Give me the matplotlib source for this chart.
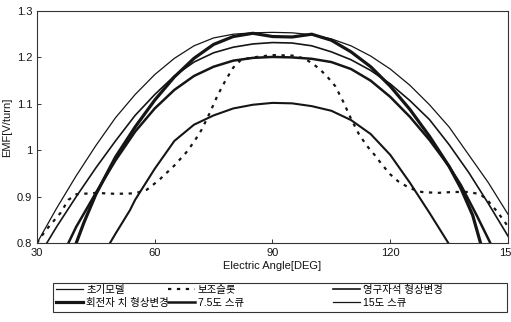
import numpy as np
import matplotlib.pyplot as plt
from matplotlib.patches import Rectangle
from matplotlib.lines import Line2D

plt.rcParams['font.family'] = ['Liberation Sans', 'Noto Sans CJK KR', 'DejaVu Sans']

# 초기모델 (thin, widest, peak ~1.25)
ang_a = [30, 35, 40, 45, 50, 55, 60, 65, 70, 75, 80, 85, 90, 95, 100, 105, 110, 115, 120, 125, 130, 135, 140, 145, 150]
emf_a = [0.80, 0.875, 0.945, 1.01, 1.07, 1.12, 1.163, 1.198, 1.225, 1.242, 1.25, 1.253, 1.254, 1.253, 1.249, 1.24, 1.225, 1.203, 1.175, 1.14, 1.098, 1.05, 0.99, 0.93, 0.862]

# 보조슬롯 (dotted)
ang_f = [30, 32, 34, 36, 38, 40, 45, 50, 55, 58, 61, 65, 68, 70, 72, 74, 76, 78, 80, 82, 85, 90, 95, 98, 100,
         102, 104, 106, 108, 110, 112, 114, 116, 118, 120, 122, 125, 128, 132, 136, 140, 143, 145, 147, 149, 150]
emf_f = [0.80, 0.825, 0.845, 0.865, 0.893, 0.905, 0.908, 0.906, 0.907, 0.915, 0.935, 0.967, 0.995, 1.018, 1.045, 1.08, 1.118, 1.15, 1.178, 1.195, 1.2, 1.205, 1.204, 1.198, 1.188,
         1.175, 1.158, 1.138, 1.105, 1.068, 1.035, 1.01, 0.99, 0.968, 0.948, 0.933, 0.918, 0.91, 0.908, 0.91, 0.91, 0.905, 0.89, 0.87, 0.848, 0.835]

# 영구자석 형상변경 (thin, peak ~1.23)
ang_b = [32.5, 35, 40, 45, 50, 55, 60, 65, 70, 75, 80, 85, 90, 95, 100, 105, 110, 115, 120, 125, 130, 135, 140, 145, 150]
emf_b = [0.80, 0.835, 0.90, 0.962, 1.02, 1.075, 1.12, 1.16, 1.19, 1.21, 1.222, 1.229, 1.232, 1.231, 1.225, 1.212, 1.195, 1.172, 1.143, 1.107, 1.066, 1.012, 0.952, 0.885, 0.815]

# 회전자 치 형상변경 (bold, steep, peak ~1.25)
ang_c = [40, 42, 45, 50, 55, 60, 65, 70, 75, 80, 85, 90, 95, 100, 105, 110, 115, 120, 125, 130, 135, 138, 141, 143]
emf_c = [0.80, 0.845, 0.905, 0.985, 1.05, 1.108, 1.158, 1.198, 1.228, 1.245, 1.252, 1.245, 1.244, 1.25, 1.237, 1.212, 1.18, 1.138, 1.088, 1.03, 0.965, 0.918, 0.86, 0.80]

# 7.5도 스큐 (bold, peak ~1.2)
ang_d = [38, 40, 45, 50, 55, 60, 65, 70, 75, 80, 85, 90, 95, 100, 105, 110, 115, 120, 125, 130, 135, 138, 142, 145.5]
emf_d = [0.80, 0.835, 0.908, 0.978, 1.04, 1.09, 1.13, 1.16, 1.18, 1.193, 1.199, 1.201, 1.2, 1.197, 1.19, 1.175, 1.15, 1.115, 1.072, 1.022, 0.965, 0.925, 0.86, 0.80]

# 15도 스큐 (peak ~1.1)
ang_e = [48.6, 50, 53.7, 55, 60, 65, 70, 75, 80, 85, 90, 95, 100, 105, 110, 115, 120, 125, 130, 134.8]
emf_e = [0.80, 0.82, 0.871, 0.893, 0.96, 1.02, 1.055, 1.075, 1.09, 1.098, 1.102, 1.101, 1.095, 1.085, 1.065, 1.035, 0.99, 0.93, 0.865, 0.80]

xticks = [30, 60, 90, 120, 150]
yticks = [0.8, 0.9, 1.0, 1.1, 1.2, 1.3]
ytick_labels = ['0.8', '0.9', '1', '1.1', '1.2', '1.3']

k = '#151515'
fig = plt.figure(figsize=(5.11, 3.22), dpi=100)
ax = fig.add_axes([0.0724, 0.2453, 0.9217, 0.7205])

la, = ax.plot(ang_a, emf_a, color=k, lw=0.9)
lf, = ax.plot(ang_f, emf_f, color=k, lw=1.6, ls=(0, (1.5, 2.5)))
lb, = ax.plot(ang_b, emf_b, color=k, lw=1.2)
lc, = ax.plot(ang_c, emf_c, color=k, lw=2.3)
ld, = ax.plot(ang_d, emf_d, color=k, lw=1.8)
le, = ax.plot(ang_e, emf_e, color=k, lw=1.5)

ax.set_xlim(30, 150)
ax.set_ylim(0.8, 1.3)
ax.set_xticks(xticks)
ax.set_yticks(yticks)
ax.set_yticklabels(ytick_labels)
ax.tick_params(direction='in', length=3, width=0.6, labelsize=8, colors=k)
for s in ax.spines.values():
    s.set_linewidth(0.8)
    s.set_color('#333333')
ax.set_xlabel('Electric Angle[DEG]', fontsize=8, labelpad=2, color=k)
ax.set_ylabel('EMF[V/turn]', fontsize=8, labelpad=3, color=k)

# legend box below the axes
fig.add_artist(Rectangle((0.104, 0.03), 0.888, 0.09, transform=fig.transFigure,
                         fill=False, lw=0.8, ec='#333333'))
kw = dict(frameon=False, fontsize=7.5, handlelength=2.6, handletextpad=0.3,
          labelspacing=0.25, borderpad=0, borderaxespad=0)
leg1 = fig.legend([Line2D([], [], color=k, lw=0.9), Line2D([], [], color=k, lw=2.3)],
                  ['초기모델', '회전자 치 형상변경'], loc='upper left',
                  bbox_to_anchor=(0.11, 0.115), **kw)
leg2 = fig.legend([Line2D([], [], color=k, lw=1.6, ls=(0, (1.5, 2.5))), Line2D([], [], color=k, lw=1.8)],
                  ['보조슬롯', '7.5도 스큐'], loc='upper left',
                  bbox_to_anchor=(0.328, 0.115), **kw)
leg3 = fig.legend([Line2D([], [], color=k, lw=1.2), Line2D([], [], color=k, lw=0.9)],
                  ['영구자석 형상변경', '15도 스큐'], loc='upper left',
                  bbox_to_anchor=(0.652, 0.115), **kw)

fig.savefig('out.png', dpi=100)
